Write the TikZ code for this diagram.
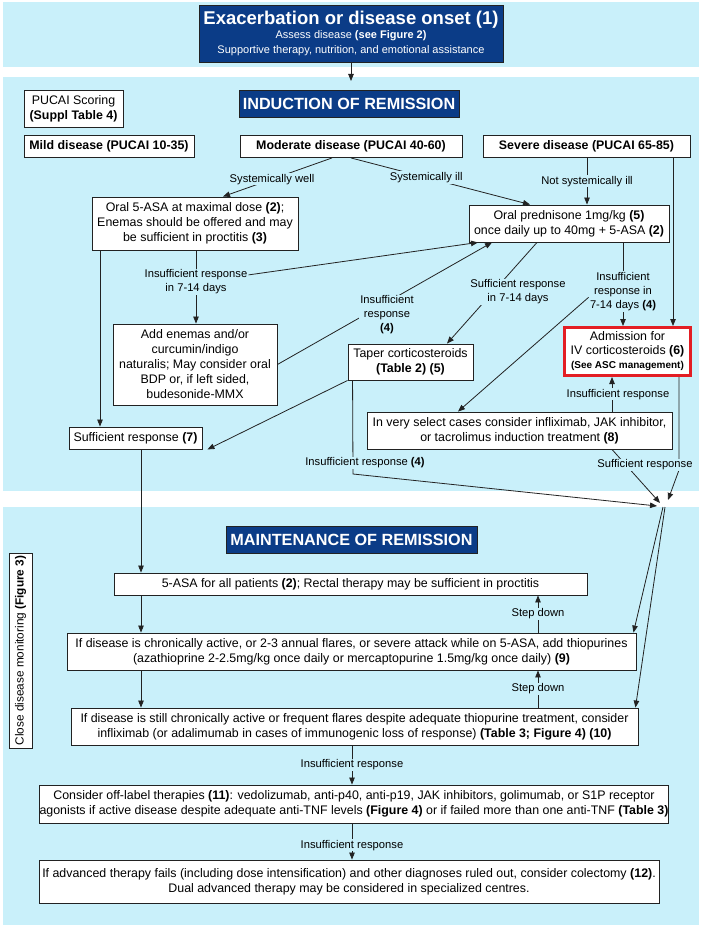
\documentclass[tikz,border=0pt]{standalone}
\usepackage{fontspec}
\setmainfont{Liberation Sans}
\usetikzlibrary{arrows.meta}
\definecolor{band}{HTML}{C9F0FA}
\definecolor{navy}{HTML}{0B3C87}
\definecolor{redb}{HTML}{E31E24}
\definecolor{ln}{HTML}{222222}
\begin{document}
\begin{tikzpicture}[x=1pt,y=-1pt,
  box/.style={draw=ln, line width=0.9pt, fill=white, inner sep=0pt, align=center, font=\fontsize{12.4}{15}\selectfont},
  bbox/.style={box, font=\fontsize{12.4}{15}\selectfont\bfseries},
  hdr/.style={draw=ln, line width=0.6pt, fill=navy, text=white, inner sep=0pt, align=center, font=\fontsize{16.2}{18}\selectfont\bfseries},
  lbl/.style={fill=band, inner sep=1pt, align=center, font=\fontsize{11.2}{14}\selectfont},
  conn/.style={draw=ln, line width=0.8pt},
  arr/.style={conn, -{Triangle[length=7pt,width=5.5pt]}},
]
\useasboundingbox (0,0) rectangle (702,928);
% bands
\fill[band] (3,2) rectangle (699,67);
\fill[band] (3,77) rectangle (699,491);
\fill[band] (3,507) rectangle (699,925);

% boxes
\node[hdr, minimum width=304pt, minimum height=57pt, font=\fontsize{11}{15}\selectfont] (top) at (351,33.5)
  {{\fontsize{18.5}{20}\selectfont\bfseries Exacerbation or disease onset (1)}\\[-1pt]
   Assess disease \textbf{(see Figure 2)}\\
   Supportive therapy, nutrition, and emotional assistance};
\node[hdr, minimum width=220pt, minimum height=27pt] (ind) at (349,103.5) {INDUCTION OF REMISSION};
\node[box, minimum width=99pt, minimum height=37pt] (pucai) at (73.5,108.5) {PUCAI Scoring\\\textbf{(Suppl Table 4)}};
\node[bbox, minimum width=170pt, minimum height=22pt] (mild) at (109,146.5) {Mild disease (PUCAI 10-35)};
\node[bbox, minimum width=222pt, minimum height=22pt] (mod) at (351,146.5) {Moderate disease (PUCAI 40-60)};
\node[bbox, minimum width=207pt, minimum height=22pt] (sev) at (586.5,146.5) {Severe disease (PUCAI 65-85)};
\node[box, minimum width=206pt, minimum height=53pt] (o5) at (195,223.5)
  {Oral 5-ASA at maximal dose \textbf{(2)};\\Enemas should be offered and may\\be sufficient in proctitis \textbf{(3)}};
\node[box, minimum width=200pt, minimum height=37pt] (pred) at (569,223.5)
  {Oral prednisone 1mg/kg \textbf{(5)}\\once daily up to 40mg + 5-ASA \textbf{(2)}};
\node[box, minimum width=164pt, minimum height=81pt] (add) at (195,364.5)
  {Add enemas and/or\\curcumin/indigo\\naturalis; May consider oral\\BDP or, if left sided,\\budesonide-MMX};
\node[box, minimum width=125pt, minimum height=36pt] (taper) at (410.5,362)
  {Taper corticosteroids\\\textbf{(Table 2) (5)}};
\node[box, draw=redb, line width=3pt, minimum width=126pt, minimum height=48pt, font=\fontsize{12.4}{14}\selectfont] (adm) at (627.5,351.5)
  {Admission for\\IV corticosteroids \textbf{(6)}\\{\fontsize{10}{14}\selectfont\bfseries (See ASC management)}};
\node[box, minimum width=305pt, minimum height=37pt] (vs) at (519.5,430.5)
  {In very select cases consider infliximab, JAK inhibitor,\\or tacrolimus induction treatment \textbf{(8)}};
\node[box, minimum width=133pt, minimum height=22pt] (suff) at (135.5,438) {Sufficient response \textbf{(7)}};

\node[hdr, minimum width=251pt, minimum height=27pt] (mnt) at (351.5,539.5) {MAINTENANCE OF REMISSION};
\node[box, minimum width=473pt, minimum height=22pt] (asa) at (350.5,584)
  {5-ASA for all patients \textbf{(2)}; Rectal therapy may be sufficient in proctitis};
\node[box, minimum width=569pt, minimum height=37pt] (thio) at (351.5,651.5)
  {If disease is chronically active, or 2-3 annual flares, or severe attack while on 5-ASA, add thiopurines\\(azathioprine 2-2.5mg/kg once daily or mercaptopurine 1.5mg/kg once daily) \textbf{(9)}};
\node[box, minimum width=567pt, minimum height=37pt] (ifx) at (354.5,726.5)
  {If disease is still chronically active or frequent flares despite adequate thiopurine treatment, consider\\infliximab (or adalimumab in cases of immunogenic loss of response) \textbf{(Table 3; Figure 4) (10)}};
\node[box, minimum width=628pt, minimum height=38pt] (off) at (354,804)
  {Consider off-label therapies \textbf{(11)}: vedolizumab, anti-p40, anti-p19, JAK inhibitors, golimumab, or S1P receptor\\agonists if active disease despite adequate anti-TNF levels \textbf{(Figure 4)} or if failed more than one anti-TNF \textbf{(Table 3)}};
\node[box, minimum width=620pt, minimum height=43pt] (last) at (349,881.5)
  {If advanced therapy fails (including dose intensification) and other diagnoses ruled out, consider colectomy \textbf{(12)}.\\Dual advanced therapy may be considered in specialized centres.};
\node[box, rotate=90, minimum width=195pt, minimum height=23pt, font=\fontsize{11.8}{14}\selectfont] (cdm) at (20.5,650.5)
  {Close disease monitoring \textbf{(Figure 3)}};

% connectors
\coordinate (topend) at (351,81);
\draw[arr] (top.south) -- (topend);
\draw[arr] ([xshift=-19pt]mod.south) -- node[lbl,pos=0.55]{Systemically well} ([xshift=28pt]o5.north);
\draw[arr] (mod.south) -- node[lbl,pos=0.42]{Systemically ill} ([xshift=-39pt]pred.north);
\draw[arr] ([xshift=0.5pt]sev.south) -- node[lbl]{Not systemically ill} ([xshift=18pt]pred.north);
\draw[arr] ([xshift=86.5pt]sev.south) -- ([xshift=45.5pt]adm.north);

\draw[arr] ([xshift=-95pt]o5.south) -- ([xshift=-35.5pt]suff.north);
\draw[arr] ([xshift=1pt]o5.south) -- node[lbl,pos=0.43](l1){Insufficient response\\in 7-14 days} ([xshift=1pt]add.north);
\draw[arr] ([yshift=7pt]l1.east) -- ([xshift=-91pt]pred.south);
\draw[arr] (add.east) -- ([xshift=-77pt]pred.south);
\node[lbl] (l2) at (387,315) {Insufficient\\response\\\textbf{(4)}};
\draw[arr] ([xshift=-32pt]pred.south) -- ([xshift=36.5pt]taper.north);
\node[lbl] (l3) at (518,292) {Sufficient response\\in 7-14 days};
\draw[arr] (taper.south west) -- ([xshift=5pt]suff.south east);

\draw[arr] ([xshift=54pt]pred.south) -- node[lbl,pos=0.585](l4){Insufficient\\response in\\7-14 days \textbf{(4)}} ([xshift=-4.5pt]adm.north);
\draw[arr] ([yshift=-6pt]l4.west) -- ([xshift=-61.5pt]vs.north);
\draw[arr] ([xshift=92.5pt]vs.north) -- node[lbl,xshift=6pt]{Insufficient response} ([xshift=-15.5pt]adm.south);

\coordinate (cv) at (663,507);
\coordinate (cvA) at (657,506);
\coordinate (cvB) at (660,503);
\coordinate (cvC) at (668,500);
\coordinate (tk) at (353,474);
\coordinate (ak) at (679,470);
\draw[arr] ([xshift=51.5pt]adm.south) -- (ak) -- (cvC);
\draw[arr] ([xshift=92.5pt]vs.south) -- (cvB);
\node[lbl] (l5) at (645,465) {Sufficient response};
\draw[arr] ([xshift=5pt]taper.south west) -- (tk) -- (cvA);
\node[lbl] (l6) at (365,463) {Insufficient response \textbf{(4)}};
\draw[arr] (cv) -- ([xshift=-3pt]thio.north east);
\draw[arr] ([xshift=2pt]cv) -- ([xshift=-3pt]ifx.north east);

\draw[arr] ([xshift=5.5pt]suff.south) -- ([xshift=-209.5pt]asa.north);
\draw[arr] ([xshift=-209.5pt]asa.south) -- ([xshift=-210.5pt]thio.north);
\draw[arr] ([xshift=-210.5pt]thio.south) -- ([xshift=-213.5pt]ifx.north);
\draw[arr] ([xshift=186.5pt]thio.north) -- node[lbl]{Step down} ([xshift=187.5pt]asa.south);
\draw[arr] ([xshift=183.5pt]ifx.north) -- node[lbl]{Step down} ([xshift=186.5pt]thio.south);
\draw[arr] ([xshift=-2.5pt]ifx.south) -- node[lbl]{Insufficient response} ([xshift=-2pt]off.north);
\draw[arr] ([xshift=-2pt]off.south) -- node[lbl,pos=0.6]{Insufficient response} ([xshift=3pt]last.north);
\end{tikzpicture}
\end{document}
